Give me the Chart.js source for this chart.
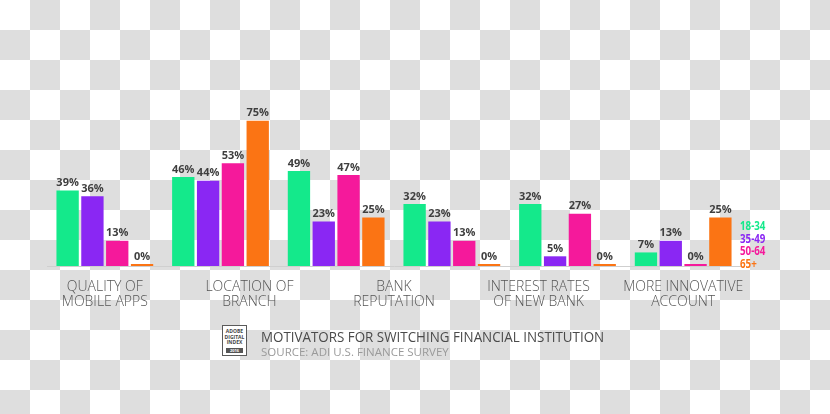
<!DOCTYPE html>
<html>
<head>
<meta charset="utf-8">
<script src="https://cdn.jsdelivr.net/npm/chart.js@4/dist/chart.umd.min.js"></script>
<style>
  html, body { margin: 0; padding: 0; }
  body {
    width: 830px; height: 414px; overflow: hidden;
    background: repeating-conic-gradient(#dedede 0 25%, #ffffff 0 50%) 0 0 / 60px 60px;
    font-family: 'Open Sans', sans-serif;
  }
  #wrap { position: relative; width: 830px; height: 414px; }
  #chart { position: absolute; left: 0; top: 0; }
  .legend { position: absolute; left: 740px; top: 219px; font-weight: 700; font-size: 13px; line-height: 12.5px; }
  .legend div { transform-origin: 0 50%; white-space: nowrap; width: max-content; }
  .logo { position: absolute; left: 222px; top: 325px; width: 25px; height: 31px; border: 1.5px solid #5a5a5a; box-sizing: border-box; background: #fff; text-align: center; font-size: 5px; line-height: 5.5px; font-weight: 700; color: #444; padding-top: 3px; }
  .logo .yr { position: absolute; left: 3px; right: 3px; bottom: 2px; height: 5px; background: #555; color: #fff; font-size: 4px; line-height: 5px; }
  .title, .source { position: absolute; left: 261px; white-space: nowrap; transform-origin: 0 50%; width: max-content; }
  .title { top: 327px; font-size: 14px; color: #4a4a4a; }
  .source { top: 344px; font-size: 11.5px; color: #9a9a9a; }
</style>
</head>
<body>
<div id="wrap">
  <canvas id="chart" width="830" height="414"></canvas>
  <div class="legend" id="legend"></div>
  <div class="logo">ADOBE<br>DIGITAL<br>INDEX<div class="yr">2016</div></div>
  <div class="title" data-w="343">MOTIVATORS FOR SWITCHING FINANCIAL INSTITUTION</div>
  <div class="source" data-w="188">SOURCE: ADI U.S. FINANCE SURVEY</div>
</div>
<script>
  // Motivators for switching, % by age group
  const groups = ['g1', 'g2', 'g3', 'g4', 'g5', 'g6'];
  const ageGroups = ['18-34', '35-49', '50-64', '65+'];
  const colors = ['#14e98b', '#8a27f3', '#f5199b', '#fb7414'];
  const age18_34 = [39, 46, 49, 32, 32, 7];
  const age35_49 = [36, 44, 23, 23, 5, 13];
  const age50_64 = [13, 53, 47, 13, 27, 0];
  const age65plus = [0, 75, 25, 0, 0, 25];

  // the five captions sit evenly across the six bar groups
  const captions = [
    ['QUALITY OF', 'MOBILE APPS'],
    ['LOCATION OF', 'BRANCH'],
    ['BANK', 'REPUTATION'],
    ['INTEREST RATES', 'OF NEW BANK'],
    ['MORE INNOVATIVE', 'ACCOUNT'],
  ];
  const captionPos = captions.map((c, i) => i * (groups.length - 1) / (captions.length - 1));

  const series = [age18_34, age35_49, age50_64, age65plus];

  const valueLabels = {
    id: 'valueLabels',
    afterDatasetsDraw(chart) {
      const ctx = chart.ctx;
      ctx.save();
      ctx.font = '700 11px "Open Sans"';
      ctx.fillStyle = '#3f3f3f';
      ctx.textAlign = 'center';
      ctx.textBaseline = 'bottom';
      chart.data.datasets.forEach((ds, i) => {
        chart.getDatasetMeta(i).data.forEach((bar, j) => {
          ctx.fillText(ds.data[j] + '%', bar.x, bar.y - 2);
        });
      });
      ctx.restore();
    }
  };

  new Chart(document.getElementById('chart'), {
    type: 'bar',
    data: {
      labels: groups,
      datasets: series.map((d, i) => ({
        label: ageGroups[i],
        data: d,
        backgroundColor: colors[i],
        categoryPercentage: 0.858,
        barPercentage: 0.9,
        minBarLength: 2,
      })),
    },
    options: {
      responsive: false,
      animation: false,
      layout: { padding: { left: 47, right: 89, top: 111, bottom: 90 } },
      plugins: { legend: { display: false }, tooltip: { enabled: false } },
      scales: {
        y: { display: false, min: 0, max: 80 },
        x: {
          grid: { display: false, drawTicks: false },
          ticks: { display: false },
          border: { color: '#cfcfcf', width: 1 },
        },
        x2: {
          type: 'linear',
          position: 'bottom',
          offset: false,
          min: -0.5,
          max: groups.length - 0.5,
          grid: { display: false, drawTicks: false, offset: false },
          border: { display: false },
          afterBuildTicks: (axis) => { axis.ticks = captionPos.map((v) => ({ value: v })); },
          ticks: {
            padding: 14,
            autoSkip: false,
            maxRotation: 0,
            color: '#555555',
            font: { family: '"Open Sans"', size: 14, weight: '300', lineHeight: '15px' },
            callback: (v) => captions[captionPos.indexOf(v)],
          },
        },
      },
    },
    plugins: [valueLabels],
  });

  document.getElementById('legend').innerHTML = ageGroups
    .map((g, i) => `<div style="color:${colors[i]}">${g}</div>`).join('');
  document.querySelectorAll('.legend div').forEach((d) => { d.style.transform = 'scaleX(0.75)'; });
  document.querySelectorAll('[data-w]').forEach((d) => {
    d.style.transform = `scaleX(${d.dataset.w / d.offsetWidth})`;
  });
</script>
</body>
</html>
